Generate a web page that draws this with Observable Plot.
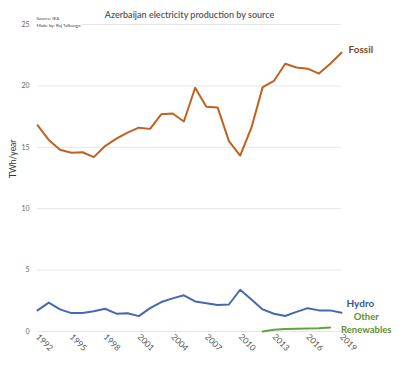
<!DOCTYPE html>
<html><head><meta charset="utf-8">
<script src="https://cdn.jsdelivr.net/npm/d3@7"></script>
<script src="https://cdn.jsdelivr.net/npm/@observablehq/plot@0.6"></script>
<style>body{margin:0;background:#fff;font-family:Lato,sans-serif}</style>
</head><body><div id="chart"></div>
<script>
const years = d3.range(1992, 2020);
const fossil = [16.8,15.6,14.8,14.55,14.6,14.2,15.1,15.7,16.2,16.6,16.5,17.7,17.75,17.1,19.85,18.3,18.25,15.5,14.33,16.6,19.9,20.4,21.8,21.5,21.4,21.0,21.8,22.7];
const hydro = [1.72,2.35,1.8,1.5,1.5,1.65,1.85,1.45,1.48,1.25,1.9,2.4,2.7,2.95,2.45,2.3,2.15,2.2,3.4,2.6,1.8,1.45,1.26,1.6,1.9,1.72,1.72,1.53];
const renYears = [2012,2013,2014,2015,2016,2017,2018];
const renewables = [0.0,0.15,0.2,0.22,0.25,0.27,0.32];
const yTicks = [0,5,10,15,20,25];
const xTicks = [1992,1995,1998,2001,2004,2007,2010,2013,2016,2019];
const title = "Azerbaijan electricity production by source";
const notes = ["Source: IEA", "Made by: Raj Talkunga"];

const fossilData = years.map((y,i)=>({year:y, v:fossil[i]}));
const hydroData = years.map((y,i)=>({year:y, v:hydro[i]}));
const renData = renYears.map((y,i)=>({year:y, v:renewables[i]}));

const chart = Plot.plot({
  width: 400, height: 366,
  marginLeft: 37, marginRight: 59, marginTop: 24, marginBottom: 35,
  style: {fontFamily: "Lato, sans-serif", background: "#fff"},
  x: {domain: [1992, 2019]},
  y: {domain: [0, 25]},
  marks: [
    Plot.gridY(yTicks, {stroke: "#e6e6e6", strokeOpacity: 1, strokeWidth: 1}),
    Plot.axisY(yTicks, {tickSize: 0, tickPadding: 8, fontSize: 7, fill: "#666", label: null}),
    Plot.axisX(xTicks, {tickSize: 0, tickPadding: 4, tickRotate: 45, fontSize: 8.5, fill: "#555", tickFormat: d=>String(d), label: null}),
    Plot.text(["TWh/year"], {frameAnchor: "left", dx: -24, rotate: -90, fontSize: 8.5, fill: "#333"}),
    Plot.line(fossilData, {x: "year", y: "v", stroke: "#c0621f", strokeWidth: 2}),
    Plot.line(hydroData, {x: "year", y: "v", stroke: "#4667b3", strokeWidth: 2}),
    Plot.line(renData, {x: "year", y: "v", stroke: "#62a33f", strokeWidth: 2}),
    Plot.text([fossilData[fossilData.length-1]], {x: "year", y: "v", text: ()=>"Fossil", dx: 7, dy: -3, textAnchor: "start", fontSize: 10, fontWeight: "bold", fill: "#80461c"}),
    Plot.text([hydroData[hydroData.length-1]], {x: "year", y: "v", text: ()=>"Hydro", dx: 5, dy: -9, textAnchor: "start", fontSize: 10, fontWeight: "bold", fill: "#3a5593"}),
    Plot.text([renData[renData.length-1]], {x: "year", y: "v", text: ()=>"Other\nRenewables", dx: 36, dy: -5, textAnchor: "middle", lineAnchor: "middle", lineHeight: 1.3, fontSize: 9.5, fontWeight: "bold", fill: "#5d8f35"}),
    Plot.text([title], {frameAnchor: "top", dy: -13, fontSize: 9, fontWeight: "600", fill: "#555"}),
    Plot.text([notes[0]], {frameAnchor: "top-left", dx: -1, dy: -8, textAnchor: "start", fontSize: 4.5, fill: "#444"}),
    Plot.text([notes[1]], {frameAnchor: "top-left", dx: -1, dy: -1, textAnchor: "start", fontSize: 4.5, fill: "#444", stroke: "#fff", strokeWidth: 2, paintOrder: "stroke"})
  ]
});
document.getElementById("chart").appendChild(chart);
</script></body></html>
